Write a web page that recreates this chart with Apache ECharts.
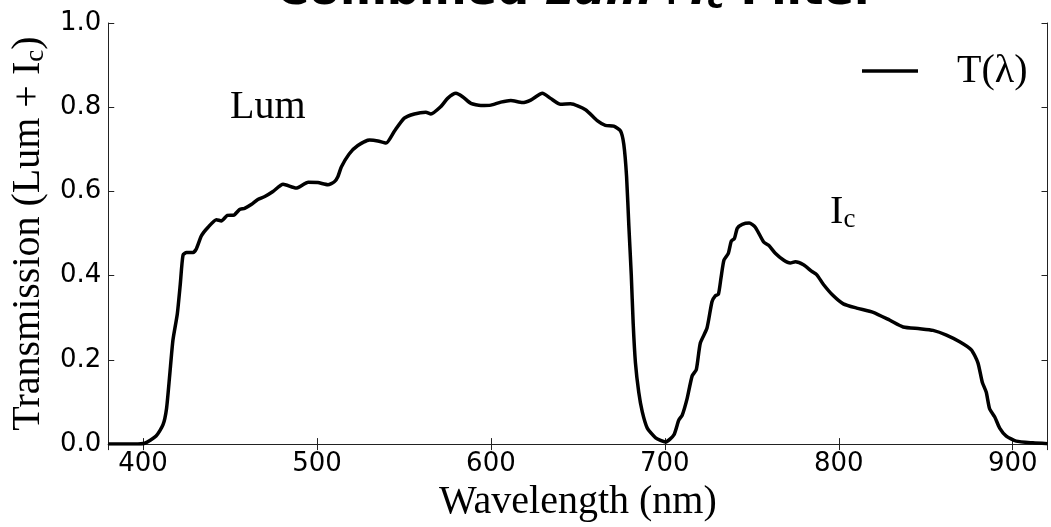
<!DOCTYPE html>
<html>
<head>
<meta charset="utf-8">
<script src="https://cdn.jsdelivr.net/npm/echarts@6/dist/echarts.min.js"></script>
<style>
  html, body { margin: 0; padding: 0; background: #fff; }
  #chart { width: 1051px; height: 527px; }
</style>
</head>
<body>
<div id="chart"></div>
<script type="text/javascript">
// wavelength (nm) and combined Lum + Ic transmission
var wavelength = [
  380, 395, 401, 407.5, 411.5, 413.5, 415.3, 417.2, 419.7, 421.4, 423, 425, 428.8, 430.7,
  433.6, 437.4, 442.2, 445, 448.5, 452.3, 455.5, 458.4, 462.2, 466, 470, 474.7, 480.5, 488,
  495, 500.5, 506.3, 510, 512, 514, 518.5, 523.5, 530.2, 535, 539.7, 544.5, 550.2, 556,
  562.6, 565.5, 571.3, 575.1, 579.9, 583.7, 588.5, 594.2, 600, 605.7, 611.4, 618.1, 622.9,
  629.6, 634.3, 640, 645.8, 654.4, 661.1, 665.8, 670.6, 674.5, 676.4, 678, 679.3, 680.7,
  681.8, 683.1, 685, 687, 689.9, 694.7, 700.4, 705.2, 708, 710, 712.8, 715.7, 718.1, 720.4,
  724.2, 727.1, 729, 730.8, 732.3, 734, 736.5, 738.2, 740, 741.7, 744.5, 748.5, 752, 756.8,
  759.7, 763.5, 768.2, 772.1, 775, 779.7, 784.5, 787.4, 791.2, 796.9, 802.6, 810.3, 819.8,
  829.4, 837, 846.6, 854.2, 861.9, 869.5, 876.2, 880, 882.5, 884.8, 886.7, 889.6, 892.5,
  896.3, 902, 911.6, 920
];
var transmission = [
  0, 0, 0.002, 0.019, 0.046, 0.084, 0.162, 0.247, 0.309, 0.379, 0.449, 0.455, 0.455, 0.464,
  0.495, 0.515, 0.533, 0.530, 0.543, 0.544, 0.557, 0.560, 0.569, 0.581, 0.588, 0.600, 0.617, 0.608,
  0.622, 0.621, 0.616, 0.623, 0.635, 0.658, 0.689, 0.709, 0.722, 0.720, 0.715, 0.743, 0.774, 0.784,
  0.788, 0.784, 0.802, 0.821, 0.833, 0.825, 0.809, 0.804, 0.805, 0.812, 0.816, 0.811, 0.817,
  0.833, 0.821, 0.807, 0.808, 0.794, 0.768, 0.757, 0.755, 0.744, 0.712, 0.635, 0.519, 0.402,
  0.286, 0.193, 0.123, 0.077, 0.038, 0.015, 0.005, 0.022, 0.057, 0.069, 0.108, 0.162, 0.177, 0.240,
  0.275, 0.338, 0.352, 0.356, 0.395, 0.437, 0.453, 0.482, 0.488, 0.513, 0.522, 0.525, 0.515, 0.480,
  0.472, 0.453, 0.437, 0.430, 0.433, 0.426, 0.410, 0.402, 0.379, 0.352, 0.333, 0.323, 0.313,
  0.294, 0.278, 0.274, 0.270, 0.259, 0.243, 0.224, 0.193, 0.147, 0.123, 0.084, 0.065, 0.038,
  0.019, 0.007, 0.003, 0.001
];
// text annotations placed in data coordinates
var noteX = [450, 795];
var noteY = [0.8, 0.55];
var noteText = ['{t|Lum}', '{t|I}{s|c}'];

var serif = '"Liberation Serif", "DejaVu Serif", serif';
var sans = '"DejaVu Sans", sans-serif';

var curve = [];
for (var i = 0; i < wavelength.length; i++) {
    curve.push([wavelength[i], transmission[i]]);
}
var notes = [];
for (var j = 0; j < noteX.length; j++) {
    notes.push({value: [noteX[j], noteY[j]], label: {formatter: noteText[j]}});
}

var frame = {show: true, lineStyle: {color: '#222', width: 1}};
var tick = {show: true, inside: true, length: 6, lineStyle: {color: '#222', width: 1}};

var myChart = echarts.init(document.getElementById('chart'), null, {renderer: 'canvas'});

var option = {
    animation: false,
    backgroundColor: '#fff',
    grid: {left: 107, right: 3.5, top: 23, bottom: 73.7},
    graphic: [{
        type: 'text',
        left: 276,
        top: -30,
        style: {
            text: '{b|Combined }{i|Lum+I}{s|c}{b| Filter}',
            rich: {
                b: {fontFamily: sans, fontWeight: 'bold', fontSize: 45, fill: '#000'},
                i: {fontFamily: sans, fontWeight: 'bold', fontStyle: 'italic', fontSize: 45, fill: '#000'},
                s: {fontFamily: sans, fontWeight: 'bold', fontStyle: 'italic', fontSize: 30, fill: '#000', padding: [16, 0, 0, 0]}
            }
        }
    }],
    legend: {
        data: ['T(λ)'],
        left: 862,
        top: 51,
        padding: 0,
        icon: 'rect',
        itemWidth: 56,
        itemHeight: 3.5,
        itemStyle: {color: '#000'},
        textStyle: {fontFamily: serif, fontSize: 40, color: '#000', padding: [0, 0, 0, 34]}
    },
    xAxis: [{
        type: 'value',
        min: 380,
        max: 920,
        name: 'Wavelength (nm)',
        nameLocation: 'middle',
        nameGap: 31,
        nameTextStyle: {fontFamily: serif, fontSize: 40, color: '#000'},
        axisLine: frame,
        axisTick: tick,
        splitLine: {show: false},
        axisLabel: {
            fontFamily: sans, fontSize: 26, color: '#000', margin: 7,
            showMinLabel: false, showMaxLabel: false
        }
    }, {
        type: 'value',
        position: 'top',
        min: 380,
        max: 920,
        axisLine: frame,
        axisTick: tick,
        splitLine: {show: false},
        axisLabel: {show: false}
    }],
    yAxis: [{
        type: 'value',
        min: 0,
        max: 1,
        interval: 0.2,
        name: 'Transmission (Lum + I{s|c})',
        nameLocation: 'middle',
        nameGap: 56,
        nameTextStyle: {
            fontFamily: serif, fontSize: 40, color: '#000',
            rich: {s: {fontFamily: serif, fontSize: 27, color: '#000', padding: [15, 0, 0, 0]}}
        },
        axisLine: frame,
        axisTick: tick,
        splitLine: {show: false},
        axisLabel: {
            fontFamily: sans, fontSize: 26, color: '#000', margin: 7,
            formatter: function (v) { return v.toFixed(1); }
        }
    }, {
        type: 'value',
        position: 'right',
        min: 0,
        max: 1,
        interval: 0.2,
        axisLine: frame,
        axisTick: tick,
        splitLine: {show: false},
        axisLabel: {show: false}
    }],
    series: [{
        name: 'T(λ)',
        type: 'line',
        data: curve,
        symbol: 'none',
        smooth: 0.2,
        lineStyle: {color: '#000', width: 3.5},
        itemStyle: {color: '#000'},
        z: 3
    }, {
        name: 'notes',
        type: 'scatter',
        data: notes,
        symbolSize: 0,
        silent: true,
        itemStyle: {opacity: 1, color: '#000'},
        label: {
            show: true,
            position: 'right',
            distance: 0,
            color: '#000',
            opacity: 1,
            rich: {
                t: {fontFamily: serif, fontSize: 40, color: '#000'},
                s: {fontFamily: serif, fontSize: 27, color: '#000', padding: [15, 0, 0, 0]}
            }
        }
    }]
};

myChart.setOption(option);
</script>
</body>
</html>
